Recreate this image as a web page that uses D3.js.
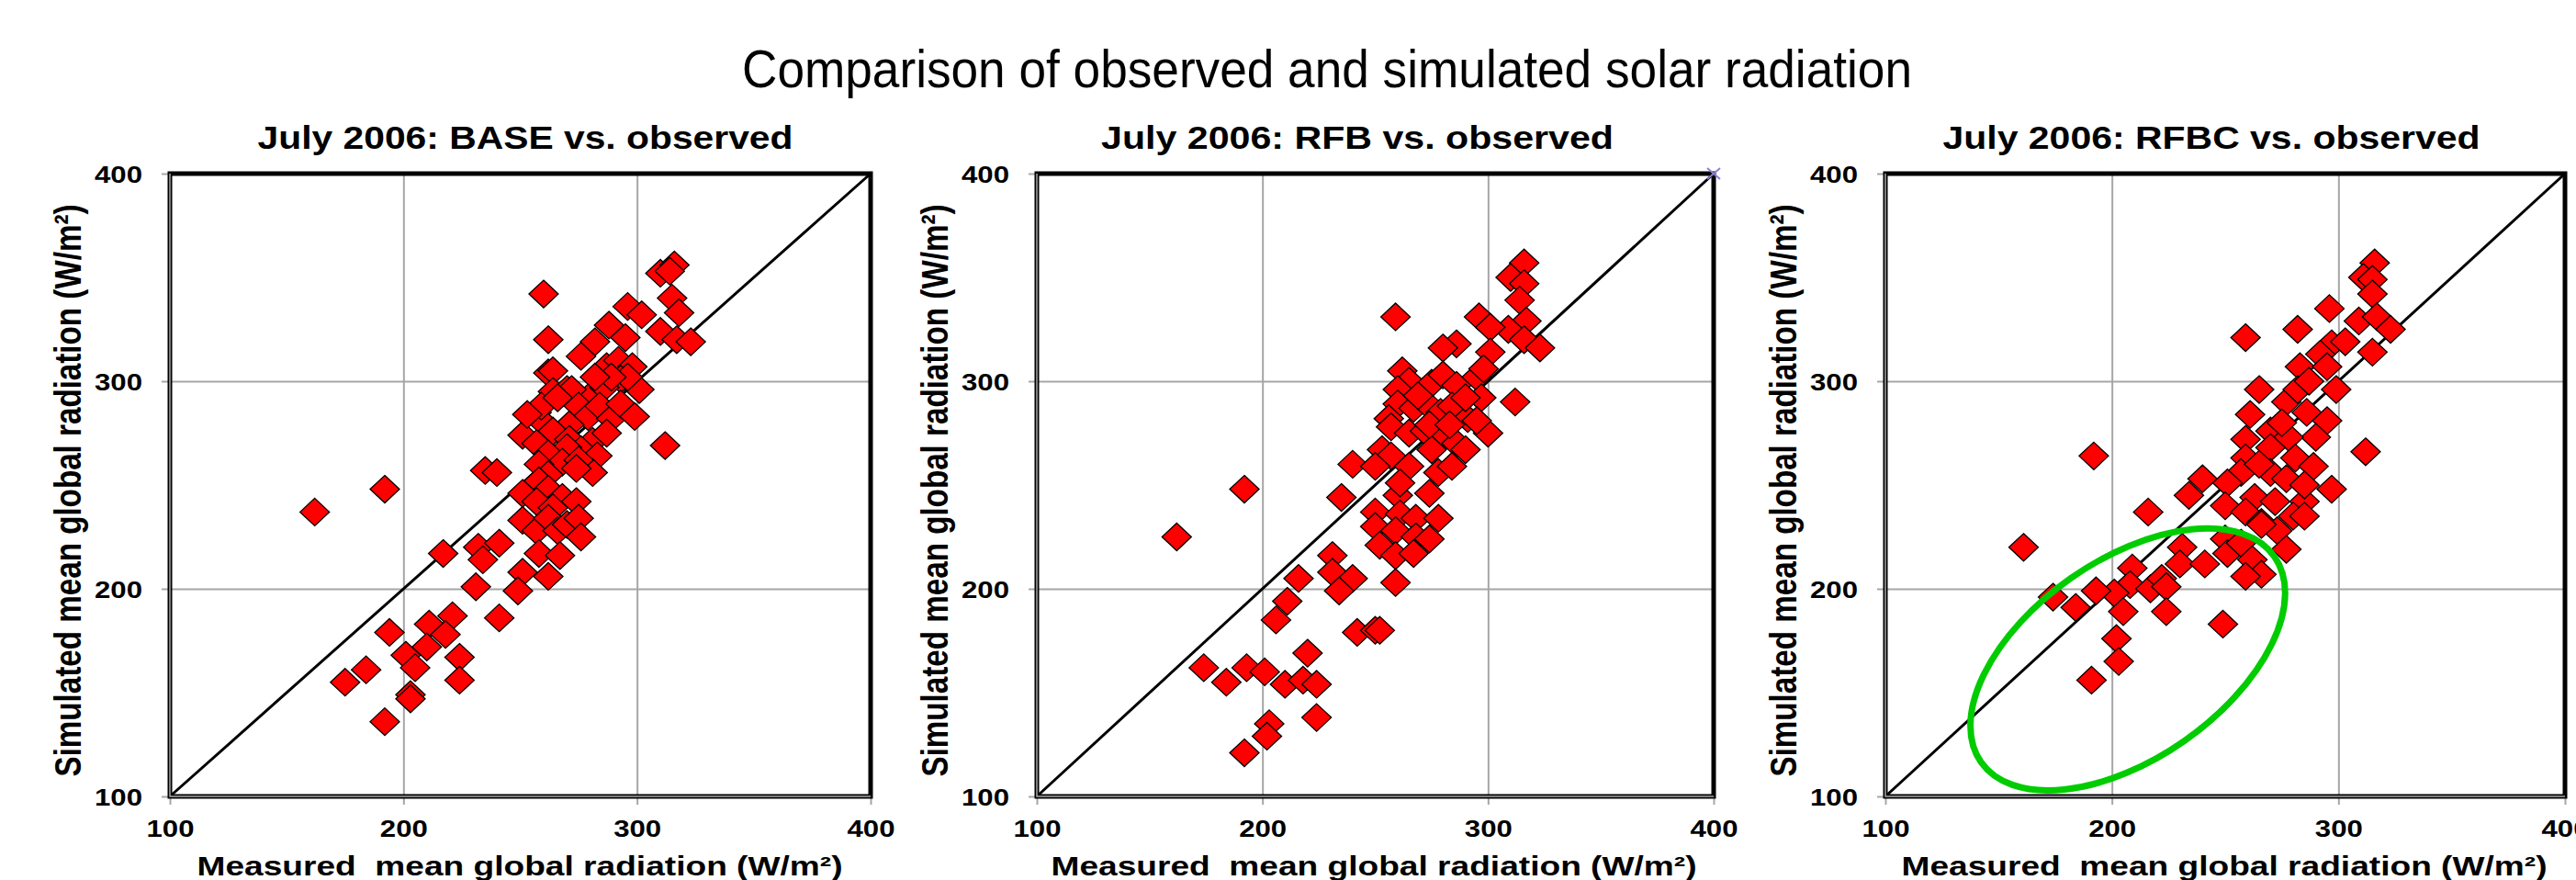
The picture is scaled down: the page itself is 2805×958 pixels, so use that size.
<!DOCTYPE html>
<html>
<head>
<meta charset="utf-8">
<script src="https://cdnjs.cloudflare.com/ajax/libs/d3/7.8.5/d3.min.js"></script>
<style>
  body { margin: 0; background: #fff; }
  svg { display: block; font-family: "Liberation Sans", Arial, sans-serif; }
</style>
</head>
<body>
<svg id="chart" width="2805" height="958"></svg>
<script>
// ---- data ----
var chartTitle = "Comparison of observed and simulated solar radiation";
var panelTitles = ["July 2006: BASE vs. observed", "July 2006: RFB vs. observed", "July 2006: RFBC vs. observed"];
var axisTicks = [100, 200, 300, 400];
var gridTicks = [200, 300];
var xLabel = "Measured  mean global radiation (W/m\u00b2)";
var yLabel = "Simulated mean global radiation (W/m\u00b2)";

// BASE run
var baseObs = [310,316,314,260,315,318,296,302,262,288, 282,295,310,317,323,276,287,292,298,262,
  264,264,270,280,287,301,293,296,286,272, 257,258,259,266,275,279,284,289,293,299,
  271,264,251,257,271,281,287,276,270,262, 283,268,258,281,275,312,235,240,262,274,
  251,258,262,268,274,257,264,251,257,262, 266,270,275,276,192,162,217,232,241,234,
  258,267,251,262,249,231,241,194,211,221, 218,210,201,205,224,224,184,175,203,203,
  192,253,289,282];
var baseSim = [352,356,353,342,340,333,336,332,320,327, 319,321,324,320,319,312,307,310,307,304,
  305,295,296,293,299,296,301,302,297,296, 285,282,288,292,288,283,288,282,289,283,
  279,276,274,270,272,271,275,267,268,265, 264,261,260,256,262,269,257,256,255,258,
  246,252,248,244,242,242,239,233,228,234, 228,231,234,225,248,237,217,220,222,214,
  217,216,208,206,199,201,186,179,183,187, 178,172,168,162,167,156,161,155,149,147,
  136,284,302,302];

// RFB run
var rfbObs = [316,310,316,314,317,309,316,323,259,296, 301,286,280,301,262,265,260,275,280,286,
  295,298,297,312,260,267,275,279,284,291, 300,295,256,257,265,272,280,286,290,253,
  257,265,275,278,284,240,250,235,260,274, 250,261,268,278,250,259,268,274,252,259,
  267,192,162,231,231,240,234,216,259,211, 206,242,250,252,220,174,184,193,201,210,
  218,224,224,203,202,192,269,290,274,283, 261];
var rfbSim = [357,350,347,339,329,325,320,316,331,331, 326,318,316,314,305,300,296,299,303,298,
  302,306,292,290,289,287,287,285,288,282, 275,281,282,278,275,276,273,270,267,267,
  264,259,267,256,259,260,259,244,245,246, 237,236,234,234,230,228,225,224,221,216,
  217,248,225,216,208,205,199,205,203,194, 185,179,180,180,169,162,155,162,160,154,
  156,154,138,135,129,121,293,292,279,279, 251];
// stray marker sitting on the top-right corner of the RFB panel
var rfbExtraObs = [400];
var rfbExtraSim = [400];

// RFBC run
var rfbcObs = [316,311,315,315,296,309,317,323,315,259, 282,297,303,292,283,295,299,265,277,282,
  286,261,295,290,312,270,278,259,270,281, 259,289,257,270,277,192,240,234,251,297,
  250,263,272,285,280,259,266,273,216,161, 231,230,241,250,251,257,262,266,259,277,
  266,285,209,208,217,222,224,201,193,174, 184,205,224,249,202,203,191,287,275,265,
  285];
var rfbcSim = [357,350,349,342,335,329,331,325,314,321, 325,318,319,313,307,307,296,296,290,296,
  285,284,281,273,266,276,273,272,268,263, 263,259,256,256,253,264,253,245,251,248,
  240,244,242,242,235,237,232,228,237,220, 220,212,212,224,217,222,214,207,206,219,
  231,235,210,202,200,205,201,198,199,196, 191,189,189,183,176,165,156,300,280,260,
  250];

// ---- layout ----
var svg = d3.select("#chart");
var plotTop = 189, plotBottom = 867;
var panels = [
  {left: 185,  right: 948,  titleX: 572,  titleW: 583, xLabX: 566,  obs: baseObs, sim: baseSim},
  {left: 1129, right: 1866, titleX: 1478, titleW: 558, xLabX: 1496, obs: rfbObs,  sim: rfbSim},
  {left: 2053, right: 2793, titleX: 2408, titleW: 585, xLabX: 2422, obs: rfbcObs, sim: rfbcSim}
];
var diamond = "M0,-15L16,0L0,15L-16,0Z";
var grey = "#a6a6a6";

svg.append("text")
  .attr("x", 1445).attr("y", 95)
  .attr("text-anchor", "middle")
  .attr("font-size", 58)
  .attr("textLength", 1274).attr("lengthAdjust", "spacingAndGlyphs")
  .text(chartTitle);

function styleTicks(sel) {
  sel.attr("font-family", null).attr("font-size", null);
  sel.select(".domain").remove();
  sel.selectAll("line").attr("stroke", grey).attr("stroke-width", 2);
  sel.selectAll("text")
    .attr("font-size", 26).attr("font-weight", "bold").attr("fill", "#000")
    .attr("textLength", 52).attr("lengthAdjust", "spacingAndGlyphs");
}

panels.forEach(function (p, i) {
  var x = d3.scaleLinear().domain([100, 400]).range([p.left, p.right]);
  var y = d3.scaleLinear().domain([100, 400]).range([plotBottom, plotTop]);
  var g = svg.append("g");

  // gridlines
  g.append("g").attr("transform", "translate(0," + plotBottom + ")")
    .call(d3.axisBottom(x).tickValues(gridTicks).tickSize(-(plotBottom - plotTop)).tickFormat(""))
    .call(styleTicks);
  g.append("g").attr("transform", "translate(" + p.left + ",0)")
    .call(d3.axisLeft(y).tickValues(gridTicks).tickSize(-(p.right - p.left)).tickFormat(""))
    .call(styleTicks);

  // short outer ticks + labels
  var xa = g.append("g").attr("transform", "translate(0," + plotBottom + ")")
    .call(d3.axisBottom(x).tickValues(axisTicks).tickSize(9))
    .call(styleTicks);
  xa.selectAll("text").attr("y", 44).attr("dy", 0);
  var ya = g.append("g").attr("transform", "translate(" + p.left + ",0)")
    .call(d3.axisLeft(y).tickValues(axisTicks).tickSize(9))
    .call(styleTicks);
  ya.selectAll("text").attr("x", -30).attr("dy", "0.36em");

  // 1:1 line
  g.append("line")
    .attr("x1", x(100)).attr("y1", y(100))
    .attr("x2", x(400)).attr("y2", y(400))
    .attr("stroke", "#000").attr("stroke-width", 3);

  g.selectAll("path.pt")
    .data(d3.zip(p.obs, p.sim))
    .join("path")
    .attr("class", "pt")
    .attr("d", diamond)
    .attr("transform", function (d) { return "translate(" + x(d[0]) + "," + y(d[1]) + ")"; })
    .attr("fill", "#ff0000")
    .attr("stroke", "#000")
    .attr("stroke-width", 1.3);

  // frame
  g.append("rect")
    .attr("x", p.left).attr("y", plotTop)
    .attr("width", p.right - p.left).attr("height", plotBottom - plotTop)
    .attr("fill", "none").attr("stroke", "#000").attr("stroke-width", 5);
  g.append("path")
    .attr("d", "M" + x(100) + "," + y(400) + "V" + y(100) + "H" + x(400))
    .attr("fill", "none").attr("stroke", grey).attr("stroke-width", 1.5);

  if (i === 1) {
    g.selectAll("path.extra")
      .data(d3.zip(rfbExtraObs, rfbExtraSim))
      .join("path")
      .attr("class", "extra")
      .attr("d", "M-7,-6L7,6M-7,6L7,-6")
      .attr("transform", function (d) { return "translate(" + x(d[0]) + "," + y(d[1]) + ")"; })
      .attr("stroke", "#8c80d0").attr("stroke-width", 2);
  }
  if (i === 2) {
    // green highlight ellipse
    g.append("ellipse")
      .attr("transform", "translate(" + x(207) + "," + y(166) + ") rotate(-35)")
      .attr("rx", 195).attr("ry", 108)
      .attr("fill", "none").attr("stroke", "#00cc00").attr("stroke-width", 7);
  }

  g.append("text")
    .attr("x", p.titleX).attr("y", 162)
    .attr("text-anchor", "middle")
    .attr("font-size", 35).attr("font-weight", "bold")
    .attr("textLength", p.titleW).attr("lengthAdjust", "spacingAndGlyphs")
    .text(panelTitles[i]);

  g.append("text")
    .attr("x", p.xLabX).attr("y", 953)
    .attr("text-anchor", "middle")
    .attr("font-size", 29).attr("font-weight", "bold")
    .attr("textLength", 703).attr("lengthAdjust", "spacingAndGlyphs")
    .style("white-space", "pre")
    .text(xLabel);

  g.append("text")
    .attr("transform", "translate(" + (p.left - 97) + ",534) rotate(-90)")
    .attr("text-anchor", "middle")
    .attr("font-size", 40).attr("font-weight", "bold")
    .attr("textLength", 623).attr("lengthAdjust", "spacingAndGlyphs")
    .text(yLabel);
});
</script>
</body>
</html>
